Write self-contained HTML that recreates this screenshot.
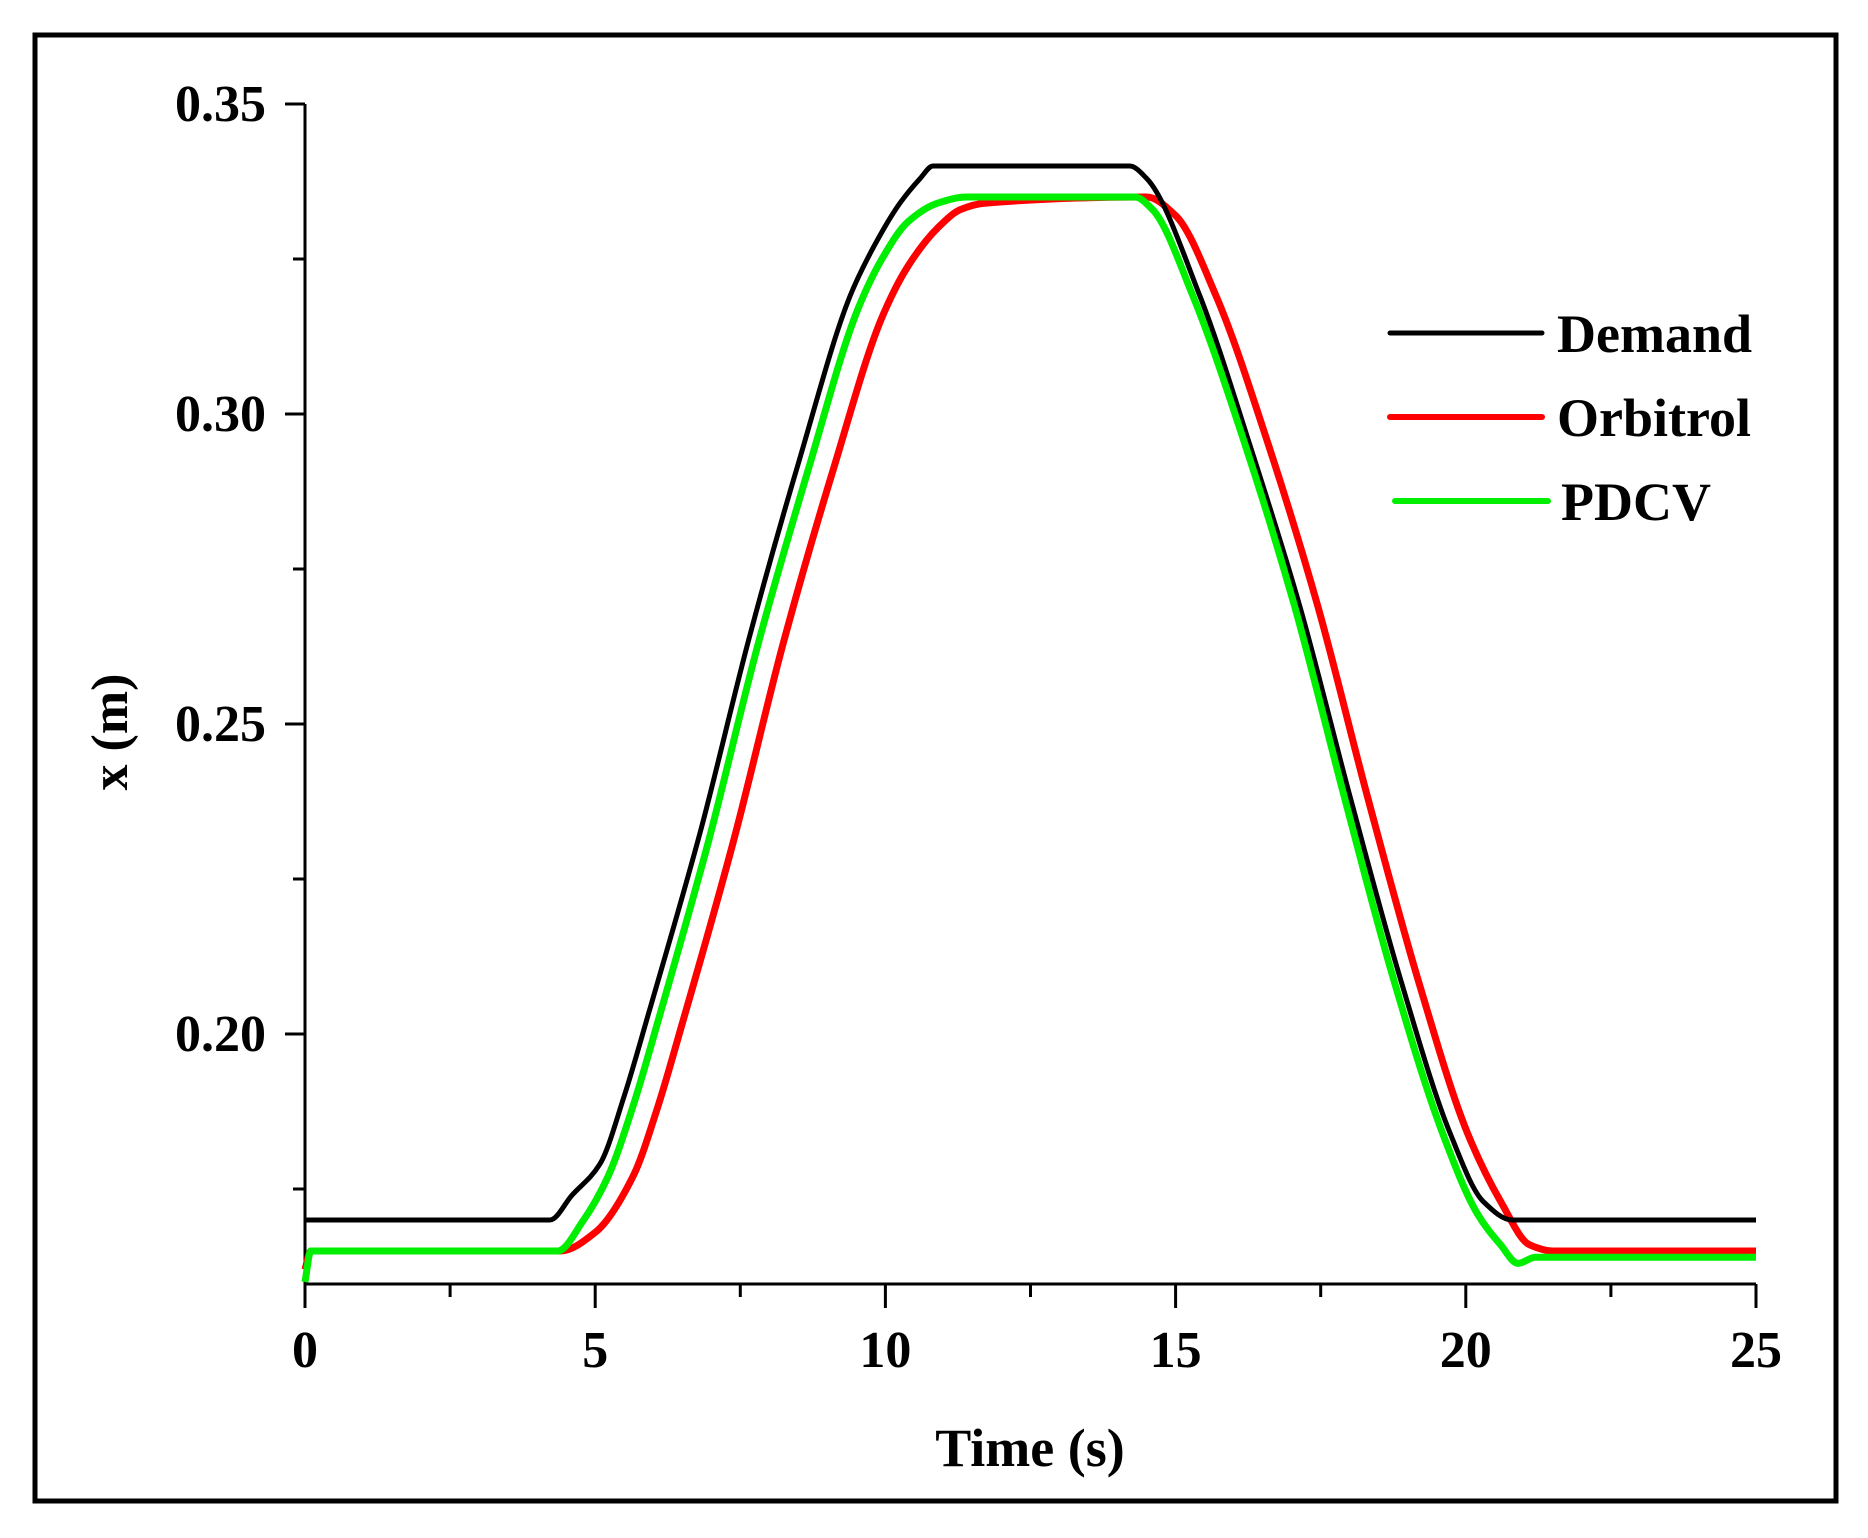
<!DOCTYPE html>
<html><head><meta charset="utf-8"><style>
html,body{margin:0;padding:0;background:#fff;}
svg{display:block;}
text{font-family:"Liberation Serif",serif;font-weight:bold;fill:#000;}
</style></head><body>
<svg id="chart" width="1868" height="1538" viewBox="0 0 1868 1538" xmlns="http://www.w3.org/2000/svg">
<rect x="35" y="35" width="1801" height="1466" fill="#fff" stroke="#000" stroke-width="5"/>
<g id="axes"></g>
<g id="series"></g>
<text x="0" y="0" font-size="52" text-anchor="middle" transform="translate(127,732) rotate(-90)">x (m)</text>
<text x="1030" y="1466" font-size="54" text-anchor="middle">Time (s)</text>
<g>
<line x1="1390" y1="333" x2="1542" y2="333" stroke="#000" stroke-width="5" stroke-linecap="round"/>
<text x="1557" y="352" font-size="54">Demand</text>
<line x1="1390" y1="417" x2="1542" y2="417" stroke="#f00" stroke-width="6" stroke-linecap="round"/>
<text x="1557" y="436" font-size="54">Orbitrol</text>
<line x1="1395" y1="501" x2="1548" y2="501" stroke="#00ee00" stroke-width="6" stroke-linecap="round"/>
<text x="1561" y="520" font-size="54">PDCV</text>
</g>
</svg>
<script>
const xTicks=[0,5,10,15,20,25];
const yTicks=[0.20,0.25,0.30,0.35];
const demandT=[0,4.22,4.6,5.08,5.5,5.94,6.81,7.67,8.53,9.39,9.8,10.25,10.6,10.82,14.21,14.5,15.42,16.28,17.14,18.0,18.87,19.73,20.3,20.8,25];
const demandX=[0.17,0.17,0.174,0.179,0.190,0.204,0.2326,0.2645,0.293,0.319,0.327,0.334,0.338,0.34,0.34,0.338,0.319,0.295,0.269,0.2385,0.209,0.184,0.173,0.170,0.170];
const orbitrolT=[0,0.1,4.4,5.0,5.65,6.07,6.51,7.38,8.24,9.1,9.96,10.4,10.9,11.3,11.7,14.5,15.0,15.7,16.6,17.45,18.3,19.17,20.03,20.6,21.1,21.5,25];
const orbitrolX=[0.162,0.165,0.165,0.168,0.177,0.188,0.202,0.231,0.263,0.291,0.316,0.324,0.330,0.333,0.334,0.335,0.332,0.319,0.295,0.269,0.2385,0.209,0.184,0.173,0.166,0.165,0.165];
const pdcvT=[0,0.1,4.35,4.8,5.22,5.64,6.08,6.95,7.81,8.67,9.53,9.94,10.39,10.9,11.4,14.3,14.6,15.3,16.2,17.05,17.9,18.75,19.6,20.2,20.6,20.9,21.2,25];
const pdcvX=[0.160,0.165,0.165,0.170,0.177,0.188,0.202,0.231,0.263,0.291,0.317,0.325,0.331,0.334,0.335,0.335,0.333,0.319,0.295,0.269,0.2385,0.209,0.184,0.171,0.166,0.163,0.164,0.164];
const X0=305,X1=1756,Y0=1284,Ytop=104;
function sx(t){return X0+(t-0)/(25-0)*(X1-X0);}
function sy(v){return 1034-(v-0.20)/0.05*310;}
const NS="http://www.w3.org/2000/svg";
const axes=document.getElementById('axes'),series=document.getElementById('series');
function mk(tag,attrs,parent){const e=document.createElementNS(NS,tag);for(const k in attrs)e.setAttribute(k,attrs[k]);parent.appendChild(e);return e;}
let a=mk('line',{x1:X0,y1:Ytop,x2:X0,y2:Y0+2,stroke:'#000','stroke-width':3},axes);


a=mk('line',{x1:X0-1,y1:Y0,x2:X1,y2:Y0,stroke:'#000','stroke-width':3},axes);


xTicks.forEach((t,i)=>{
  const l=mk('line',{x1:sx(t),y1:Y0,x2:sx(t),y2:Y0+24,stroke:'#000','stroke-width':3},axes);
  
  
  if(i<xTicks.length-1){const m=mk('line',{x1:sx(t+2.5),y1:Y0,x2:sx(t+2.5),y2:Y0+13,stroke:'#000','stroke-width':3},axes);
  
  }
  const tx=mk('text',{x:sx(t),y:1367,'font-size':52,'text-anchor':'middle'},axes);tx.textContent=String(t);
  
  
});
yTicks.forEach(v=>{
  const l=mk('line',{x1:X0-20,y1:sy(v),x2:X0,y2:sy(v),stroke:'#000','stroke-width':3},axes);
  
  
  const tx=mk('text',{x:266,y:sy(v)+17,'font-size':52,'text-anchor':'end'},axes);tx.textContent=v.toFixed(2);
  
  
});
[0.175,0.225,0.275,0.325].forEach(v=>{
  const m=mk('line',{x1:X0-12,y1:sy(v),x2:X0,y2:sy(v),stroke:'#000','stroke-width':3},axes);
  
  
});
function pathD(T,V){
  const P=T.map((t,i)=>[sx(t),sy(V[i])]);
  const n=P.length;
  const d=[],m=new Array(n);
  for(let i=0;i<n-1;i++)d.push((P[i+1][1]-P[i][1])/(P[i+1][0]-P[i][0]));
  m[0]=d[0];m[n-1]=d[n-2];
  for(let i=1;i<n-1;i++){
    if(d[i-1]*d[i]<=0)m[i]=0;
    else{const w1=2*(P[i+1][0]-P[i][0])+(P[i][0]-P[i-1][0]),w2=(P[i+1][0]-P[i][0])+2*(P[i][0]-P[i-1][0]);
      m[i]=(w1+w2)/(w1/d[i-1]+w2/d[i]);}
  }
  let s='M'+P[0][0].toFixed(1)+','+P[0][1].toFixed(1);
  for(let i=0;i<n-1;i++){
    const h=(P[i+1][0]-P[i][0])/3;
    s+=' C'+(P[i][0]+h).toFixed(1)+','+(P[i][1]+m[i]*h).toFixed(1)+' '+(P[i+1][0]-h).toFixed(1)+','+(P[i+1][1]-m[i+1]*h).toFixed(1)+' '+P[i+1][0].toFixed(1)+','+P[i+1][1].toFixed(1);
  }
  return s;
}
let p=mk('path',{d:pathD(orbitrolT,orbitrolX),fill:'none',stroke:'#f00','stroke-width':7,'stroke-linejoin':'round'},series);


p=mk('path',{d:pathD(demandT,demandX),fill:'none',stroke:'#000','stroke-width':5,'stroke-linejoin':'round'},series);


p=mk('path',{d:pathD(pdcvT,pdcvX),fill:'none',stroke:'#00ee00','stroke-width':7,'stroke-linejoin':'round'},series);


</script>
</body></html>
